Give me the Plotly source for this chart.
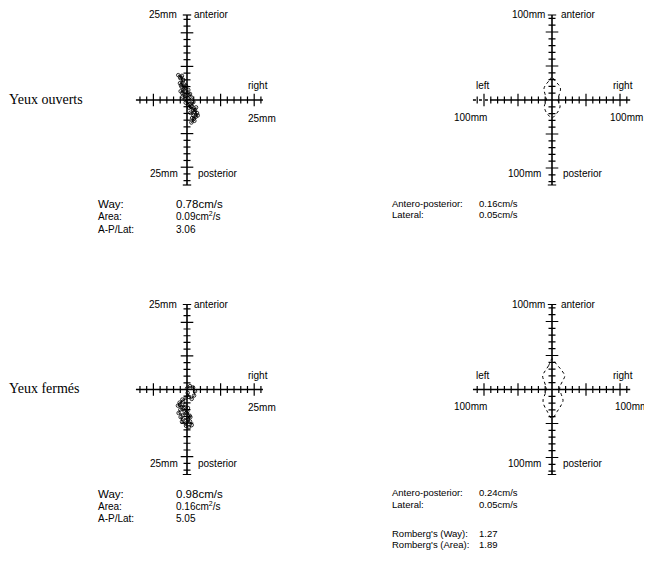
import numpy as np
import plotly.graph_objects as go

W, H = 652, 566
OFF = 8  # page body margin of the written html, compensated in the layout

# ---------------- data ----------------
# Stabilogram (lateral mm, antero-posterior mm) - eyes open
open_lat = [-1.5, -2.0, -1.2, -2.1, -0.8, -1.6, -0.3, -1.0, -1.9, -0.5, 0.4, -0.2, -1.3, 0.2, 0.9, 1.3,
            0.5, -0.4, 0.8, 1.9, 1.5, 0.6, 1.8, 2.7, 2.2, 1.0, 1.9, 3.0, 2.6, 1.5, 2.2, 1.3, 2.0, 3.2,
            2.4, 1.2, 0.3, -0.6, -1.4, -0.7, -1.8, -1.1, -2.6, -1.9]
open_ap = [7.2, 6.5, 5.8, 5.0, 4.6, 3.9, 4.2, 3.2, 2.6, 2.2, 3.0, 1.5, 1.0, 0.6, 1.8, 0.8,
           -0.3, -0.8, -1.2, -0.6, -1.8, -2.3, -2.9, -2.2, -3.5, -3.8, -4.5, -3.9, -5.0, -5.4, -6.2, -6.7, -5.6, -4.6,
           -3.0, -2.0, -1.5, 0.2, 2.0, 3.6, 4.4, 6.0, 7.4, 6.8]
# eyes closed
closed_lat = [0.0, 0.9, 1.8, 2.4, 2.1, 1.4, 0.6, 0.2, -0.4, -1.2, -2.2, -2.7, -1.6, -0.5, 0.3, -0.8,
              -2.0, -2.5, -1.3, -0.2, 0.8, 0.2, -1.1, -1.9, -1.5, -0.4, 0.9, 1.4, 0.6, -0.3, 0.3, 1.0,
              0.1, -1.0, -2.1, -1.4]
closed_ap = [0.3, 1.0, 0.6, -0.5, -1.8, -2.8, -2.2, -1.0, -2.5, -3.6, -3.9, -4.8, -5.2, -4.6, -5.5, -6.3,
             -6.0, -7.0, -7.6, -7.0, -7.8, -8.7, -8.9, -8.2, -9.6, -10.1, -9.5, -10.6, -11.2, -10.8, -9.0, -8.2,
             -6.5, -5.5, -4.5, -3.0]

# velocity envelopes (lateral mm, AP mm)
env_open_lat = [0, -4, -8, -9.5, -8.5, -7, -6.5, -7.5, -9, -8, -5, 0, 4.5, 8, 9.5, 8, 7, 7.5, 9, 10, 8.5, 4, 0]
env_open_ap = [27, 22, 17, 13, 8, 3, 0, -3, -7, -12, -17, -21, -17, -12, -7, -3, 0, 3, 8, 13, 17, 22, 27]
env_closed_lat = [0, -4, -8, -11, -9, -7, -6.5, -8, -10.5, -10, -6, 0, 6, 11, 13, 11, 9, 10, 13, 15, 11, 5, 0]
env_closed_ap = [36, 28, 22, 16, 9, 3, 0, -5, -12, -17, -25, -34, -26, -18, -13, -6, 0, 5, 11, 16, 23, 30, 36]

row_titles = ["Yeux ouverts", "Yeux fermés"]
left_stat_labels = ["Way:", "Area:", "A-P/Lat:"]
left_stat_open = ["0.78cm/s", "0.09cm<sup>2</sup>/s", "3.06"]
left_stat_closed = ["0.98cm/s", "0.16cm<sup>2</sup>/s", "5.05"]
right_stat_labels = ["Antero-posterior:", "Lateral:"]
right_stat_open = ["0.16cm/s", "0.05cm/s"]
right_stat_closed = ["0.24cm/s", "0.05cm/s"]
romberg_labels = ["Romberg's (Way):", "Romberg's (Area):"]
romberg_values = ["1.27", "1.89"]

# ---------------- layout helpers ----------------
def px(x):
    return (x - OFF) / W

def py(y):
    return 1 - (y - OFF) / H

SANS = "Liberation Sans, Arial, sans-serif"
SERIF = "Liberation Serif, Times New Roman, serif"

fig = go.Figure()
annotations = []

def txt(x, y, s, anchor="left", size=10, font=SANS):
    annotations.append(dict(x=px(x), y=py(y), xref="paper", yref="paper", text=s, showarrow=False,
                            xanchor=anchor, yanchor="middle", borderpad=0,
                            font=dict(family=font, size=size, color="black")))

def add_axes(idx, cx, cy, s, R):
    xn = "xaxis" if idx == 1 else f"xaxis{idx}"
    yn = "yaxis" if idx == 1 else f"yaxis{idx}"
    an_x = "x" if idx == 1 else f"x{idx}"
    an_y = "y" if idx == 1 else f"y{idx}"
    half = R * s
    fig.layout[xn] = dict(domain=[px(cx - half), px(cx + half)], range=[-R, R], visible=False,
                          anchor=an_y, fixedrange=True)
    fig.layout[yn] = dict(domain=[py(cy + half), py(cy - half)], range=[-R, R], visible=False,
                          anchor=an_x, fixedrange=True)
    return an_x, an_y

def cross(ax, ay, h_lo, h_hi, v_lo, v_hi, step, major, dotted_to=None):
    h_start = h_lo if dotted_to is None else dotted_to
    fig.add_trace(go.Scatter(x=[h_start, h_hi], y=[0, 0], mode="lines", xaxis=ax, yaxis=ay,
                             line=dict(color="black", width=1.6), hoverinfo="skip", showlegend=False))
    if dotted_to is not None:
        fig.add_trace(go.Scatter(x=[h_lo, dotted_to], y=[0, 0], mode="lines", xaxis=ax, yaxis=ay,
                                 line=dict(color="black", width=1.3, dash="dot"), hoverinfo="skip",
                                 showlegend=False))
    fig.add_trace(go.Scatter(x=[0, 0], y=[v_lo, v_hi], mode="lines", xaxis=ax, yaxis=ay,
                             line=dict(color="black", width=1.6), hoverinfo="skip", showlegend=False))
    ht = np.arange(np.ceil(h_lo / step) * step, h_hi + 1e-9, step)
    ht = ht[np.abs(ht) > 1e-9]
    vt = np.arange(np.ceil(v_lo / step) * step, v_hi + 1e-9, step)
    vt = vt[np.abs(vt) > 1e-9]
    hmaj = np.abs(np.round(ht / major) * major - ht) < 1e-6
    vmaj = np.abs(np.round(vt / major) * major - vt) < 1e-6
    for vals, ismaj, horiz in ((ht, hmaj, True), (vt, vmaj, False)):
        for sel, size in ((~ismaj, 5), (ismaj, 9)):
            v = vals[sel]
            if horiz:
                xs, ys, sym = v, np.zeros_like(v), "line-ns"
            else:
                xs, ys, sym = np.zeros_like(v), v, "line-ew"
            fig.add_trace(go.Scatter(x=xs, y=ys, mode="markers", xaxis=ax, yaxis=ay,
                                     marker=dict(symbol=sym, size=size,
                                                 line=dict(color="black", width=1.2)),
                                     hoverinfo="skip", showlegend=False))
    fig.add_trace(go.Scatter(x=[0, 0], y=[v_lo, v_hi], mode="markers", xaxis=ax, yaxis=ay,
                             marker=dict(symbol="line-ew", size=6, line=dict(color="black", width=1.2)),
                             hoverinfo="skip", showlegend=False))

rows = [
    dict(cy=100, title=row_titles[0], lat=open_lat, ap=open_ap, env=(env_open_lat, env_open_ap),
         lstat=left_stat_open, rstat=right_stat_open, romberg=False, rx100=609),
    dict(cy=389.5, title=row_titles[1], lat=closed_lat, ap=closed_ap, env=(env_closed_lat, env_closed_ap),
         lstat=left_stat_closed, rstat=right_stat_closed, romberg=True, rx100=614),
]

idx = 1
for r_i, row in enumerate(rows):
    cy = row["cy"]
    dy = cy - 100
    # ---- left panel: stabilogram
    sL = 3.36
    ax, ay = add_axes(idx, 187, cy, sL, 26.5); idx += 1
    cross(ax, ay, -15.2, 22.6, -25.3, 25.3, 2, 10)
    fig.add_trace(go.Scatter(x=row["lat"], y=row["ap"], mode="lines+markers", xaxis=ax, yaxis=ay,
                             line=dict(color="black", width=0.8),
                             marker=dict(symbol="circle-open", size=3.5, color="black",
                                         line=dict(width=0.8)),
                             hoverinfo="skip", showlegend=False))
    # ---- right panel: envelopes
    sR = 0.85
    ax, ay = add_axes(idx, 552, cy, sR, 105); idx += 1
    cross(ax, ay, -93, 92, -100, 100, 8, 40, dotted_to=(-73 if r_i == 0 else None))
    fig.add_trace(go.Scatter(x=row["env"][0], y=row["env"][1], mode="lines", xaxis=ax, yaxis=ay,
                             line=dict(color="black", width=1, dash="dot", shape="spline"),
                             hoverinfo="skip", showlegend=False))

    # ---- texts
    txt(OFF, 99 + dy, row["title"], size=14, font=SERIF)
    txt(178, 15 + dy, "25mm", anchor="right")
    txt(193, 15 + dy, "anterior")
    txt(247, 86 + dy, "right")
    txt(247, 118 + dy, "25mm")
    txt(179, 174 + dy, "25mm", anchor="right")
    txt(197, 174 + dy, "posterior")
    txt(546, 15 + dy, "100mm", anchor="right")
    txt(560, 15 + dy, "anterior")
    txt(475, 86 + dy, "left")
    txt(453, 117 + dy, "100mm")
    txt(612, 86 + dy, "right")
    txt(row["rx100"], 117 + dy, "100mm", size=10)
    txt(542, 174 + dy, "100mm", anchor="right")
    txt(562, 174 + dy, "posterior")
    for k, (lab, val) in enumerate(zip(left_stat_labels, row["lstat"])):
        yy = 204 + dy + k * 12.5
        fs = 11.5 if k == 0 else 10
        txt(97, yy, lab, size=fs)
        txt(175, yy, val, size=fs)
    for k, (lab, val) in enumerate(zip(right_stat_labels, row["rstat"])):
        yy = 203 + dy + k * 11.5
        txt(391, yy, lab, size=9.5)
        txt(478, yy, val, size=9.5)
    if row["romberg"]:
        for k, (lab, val) in enumerate(zip(romberg_labels, romberg_values)):
            yy = 533 + k * 11.5
            txt(391, yy, lab, size=9.5)
            txt(478, yy, val, size=9.5)

fig.update_layout(width=W, height=H, margin=dict(l=0, r=0, t=0, b=0),
                  paper_bgcolor="white", plot_bgcolor="rgba(0,0,0,0)",
                  annotations=annotations, showlegend=False)

fig.write_html("out.html")
